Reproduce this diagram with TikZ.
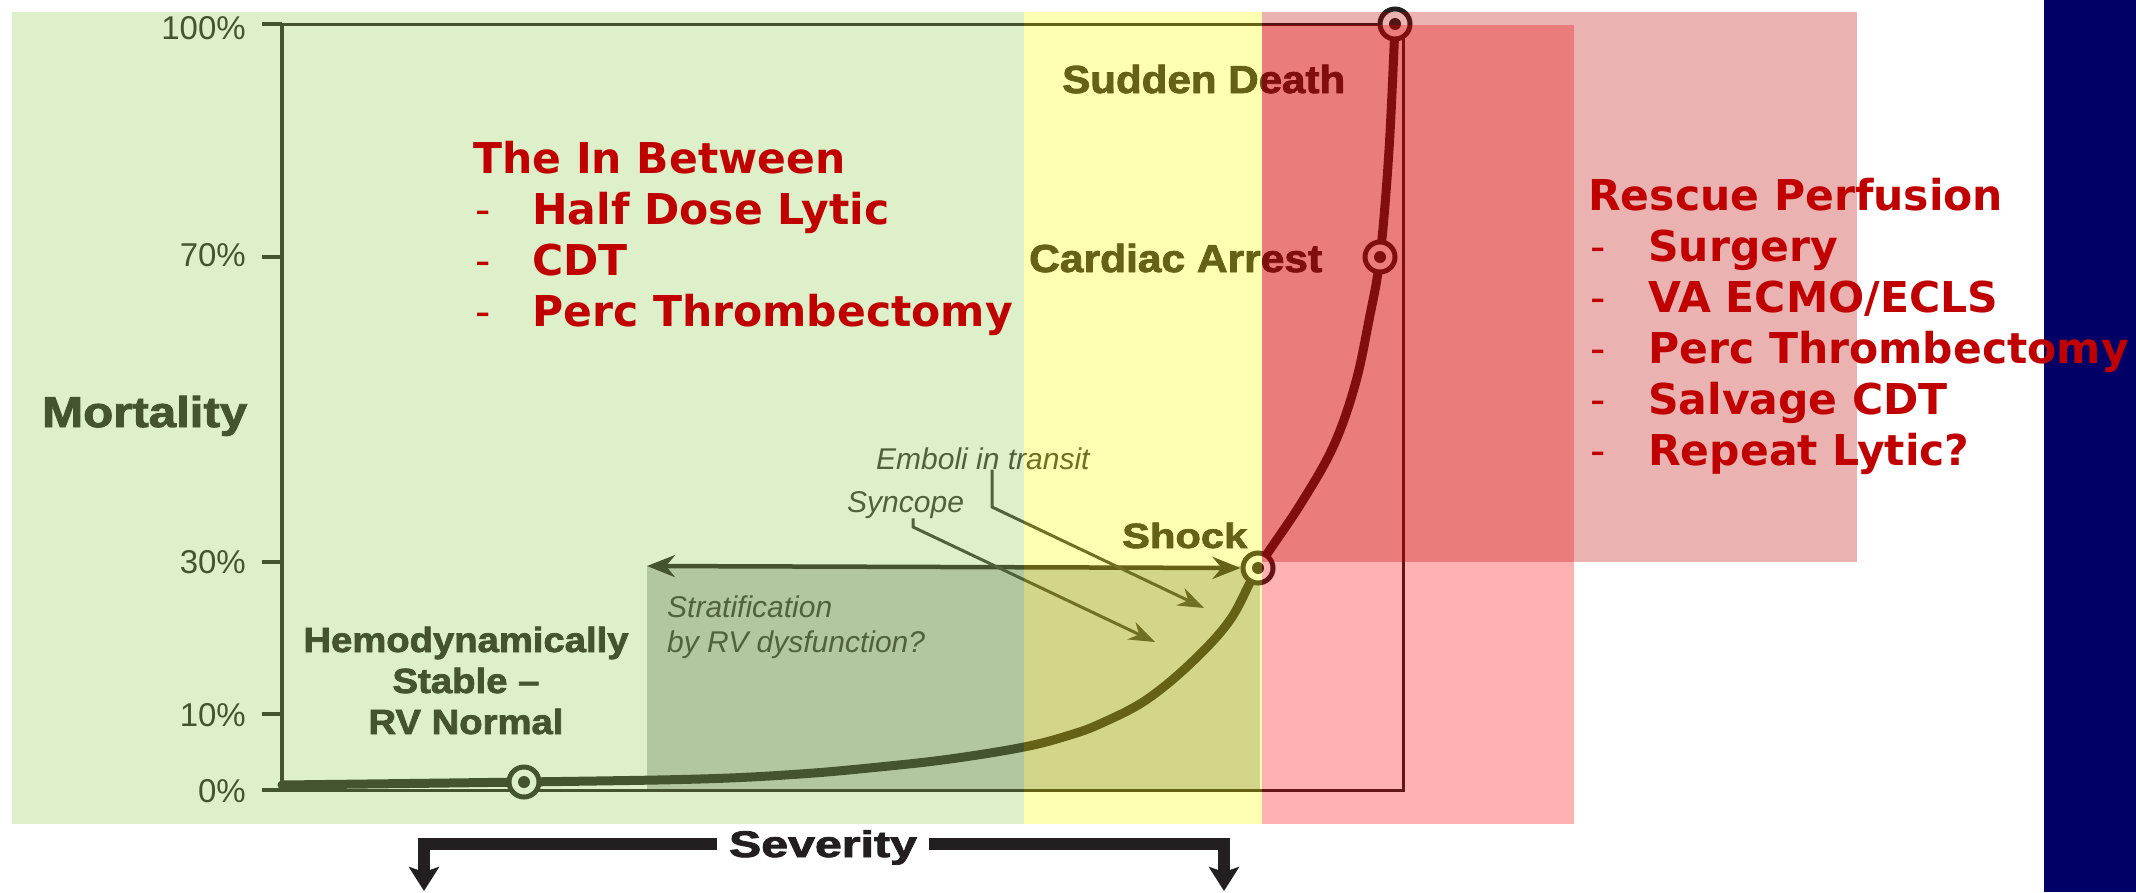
\documentclass[tikz,border=0pt]{standalone}
\usepackage{graphicx}
\usepackage{fontspec}
\setmainfont{Liberation Sans}
\newfontfamily\heavyfont[BoldFeatures={FakeBold=2}]{Liberation Sans}
\newfontfamily\verdfont{DejaVu Sans}
\usetikzlibrary{arrows.meta}
\definecolor{chartc}{HTML}{231F20}
\definecolor{greyc}{HTML}{C0C3C4}
\definecolor{txtc}{HTML}{333333}
\definecolor{ovgreen}{HTML}{92D050}
\definecolor{ovyellow}{HTML}{FFFF00}
\definecolor{ovpink}{HTML}{FF0000}
\definecolor{redc}{HTML}{C00000}
\definecolor{navyc}{HTML}{000066}
\newcommand{\fitw}[2]{\resizebox{#1pt}{\height}{#2}}
\pgfdeclarelayer{back}
\pgfdeclarelayer{under}
\pgfsetlayers{back,under,main}
\begin{document}
\begin{tikzpicture}[x=1pt,y=-1pt,
  ticklab/.style={anchor=base east, inner sep=0pt, font=\fontsize{33}{33}\selectfont, text=chartc},
  boldlab/.style={anchor=base west, inner sep=0pt, font=\heavyfont\bfseries\fontsize{39}{39}\selectfont, text=chartc},
  hemolab/.style={anchor=base, inner sep=0pt, font=\heavyfont\bfseries\fontsize{35}{35}\selectfont, text=chartc},
  itlab/.style={anchor=base west, inner sep=0pt, font=\itshape\fontsize{30}{36}\selectfont, text=txtc},
  ring/.style={circle, draw=chartc, line width=5pt, fill=white, minimum size=30pt, inner sep=0pt,
    path picture={\fill[chartc] (path picture bounding box.center) circle (6pt);}},
  listhead/.style={anchor=base west, inner sep=0pt, font=\verdfont\bfseries\fontsize{42.5}{51}\selectfont, text=redc},
  dashlab/.style={anchor=base west, inner sep=0pt, font=\verdfont\fontsize{42.5}{51}\selectfont, text=redc},
  tintbox/.style={fill opacity=0.3},
  leader/.style={draw=txtc, line width=3pt, -{Stealth[length=26pt,width=19pt]}},
  bracket/.style={draw=chartc, line width=12pt, -{Stealth[length=24pt,width=30pt,inset=5pt]}}
]
\useasboundingbox (0,0) rectangle (2136,892);
\begin{pgfonlayer}{back}
\fill[white] (0,0) rectangle (2136,892);
\end{pgfonlayer}

% points of the curve (circles)
\node[ring] (stable) at (524,782) {};
\node[ring] (shock) at (1258,568) {};
\node[ring] (arrest) at (1380,257) {};
\node[ring] (death) at (1395,24) {};

% tick labels and axis title
\node[ticklab] (t100) at (246,39) {100\%};
\node[ticklab] (t70) at (246,266) {70\%};
\node[ticklab] (t30) at (246,573) {30\%};
\node[ticklab] (t10) at (246,726) {10\%};
\node[ticklab] (t0) at (246,802) {0\%};
\node[boldlab, font=\heavyfont\bfseries\fontsize{43}{43}\selectfont] (mort) at (42,427) {\fitw{205}{Mortality}};

% state labels
\node[boldlab] (sd) at (1062,93) {\fitw{283}{Sudden Death}};
\node[boldlab] (ca) at (1029,272) {\fitw{293}{Cardiac Arrest}};
\node[boldlab, font=\heavyfont\bfseries\fontsize{35}{35}\selectfont] (sh) at (1122,548) {\fitw{125}{Shock}};
\node[hemolab] (h1) at (466,652) {\fitw{325}{Hemodynamically}};
\node[hemolab] (h2) at (466,693) {\fitw{147}{Stable –}};
\node[hemolab] (h3) at (466,734) {\fitw{195}{RV Normal}};

% italic labels
\node[itlab] (emb) at (876,469) {Emboli in transit};
\node[itlab] (syn) at (847,512) {Syncope};
\node[itlab] (st1) at (667,617) {Stratification};
\node[itlab] (st2) at (667,652) {by RV dysfunction?};

\coordinate (embB) at (992,507);
\coordinate (embT) at (1204,608);
\coordinate (synB) at (913,527);
\coordinate (synT) at (1155,642);
\coordinate (stratL) at (647,566);

\begin{pgfonlayer}{under}
\fill[greyc] (647,566) rectangle (1260,789);
\draw[chartc, line width=4.5pt] (282,24) -- (282,790);
\draw[chartc, line width=3pt] (282,24) -- (1395,24);
\draw[chartc, line width=3pt] (1403,24) -- (1403,790) -- (282,790);
\foreach \ty in {24,257,562,714,790} \draw[chartc, line width=3.5pt] (262,\ty) -- (282,\ty);
\draw[chartc, line width=9pt, line cap=round] plot[smooth, tension=0.6] coordinates {
  (282,785) (stable) (700,779) (800,774) (879,767) (950,759) (1024,747) (1070,735)
  (1102,723) (1146,700) (1191,663) (1230,620) (shock) (1300,505) (1333,447)
  (1355,385) (1369,320) (arrest) (1389,150) (death)};
\draw[chartc, line width=4.5pt, {Stealth[length=28pt,width=22pt]}-{Stealth[length=28pt,width=22pt]}] (stratL) -- (shock.west);
\draw[leader] (emb.south -| embB) -- (embB) -- (embT);
\draw[leader] (syn.south -| synB) -- (synB) -- (synT);
\end{pgfonlayer}

% translucent colour bands
\fill[ovgreen, tintbox] (12,12) rectangle (1024,824);
\fill[ovyellow, tintbox] (1024,12) rectangle (1262,824);
\fill[ovpink, tintbox] (1262,25) rectangle (1574,824);
\fill[redc, tintbox] (1262,12) rectangle (1857,562);

% severity bracket
\node[anchor=base, inner xsep=12pt, inner ysep=0pt, font=\heavyfont\bfseries\fontsize{37}{37}\selectfont, text=chartc] (sev) at (823,857) {\fitw{188}{Severity}};
\coordinate (bl) at (424,844);
\coordinate (blt) at (424,891);
\coordinate (br) at (1224,844);
\coordinate (brt) at (1224,891);
\draw[bracket] (sev.west |- bl) -- (bl) -- (blt);
\draw[bracket] (sev.east |- br) -- (br) -- (brt);

% navy strip
\fill[navyc] (2044,0) rectangle (2136,892);

% left list
\node[listhead] (lh) at (473,173) {The In Between};
\node[dashlab] (ld1) at (475,224) {-};
\node[listhead] (li1) at (532,224) {Half Dose Lytic};
\node[dashlab] (ld2) at (475,275) {-};
\node[listhead] (li2) at (532,275) {CDT};
\node[dashlab] (ld3) at (475,326) {-};
\node[listhead] (li3) at (532,326) {Perc Thrombectomy};

% right list
\node[listhead] (rh) at (1588,210) {Rescue Perfusion};
\node[dashlab] (rd1) at (1590,261) {-};
\node[listhead] (ri1) at (1648,261) {Surgery};
\node[dashlab] (rd2) at (1590,312) {-};
\node[listhead] (ri2) at (1648,312) {VA ECMO/ECLS};
\node[dashlab] (rd3) at (1590,363) {-};
\node[listhead] (ri3) at (1648,363) {Perc Thrombectomy};
\node[dashlab] (rd4) at (1590,414) {-};
\node[listhead] (ri4) at (1648,414) {Salvage CDT};
\node[dashlab] (rd5) at (1590,465) {-};
\node[listhead] (ri5) at (1648,465) {Repeat Lytic?};
\end{tikzpicture}
\end{document}
